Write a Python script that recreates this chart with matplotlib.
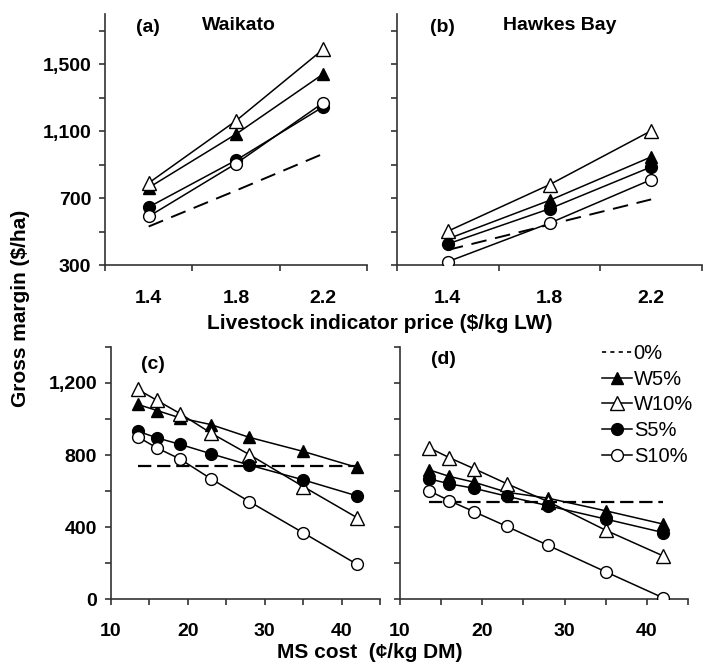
import matplotlib
matplotlib.use('Agg')
import matplotlib.pyplot as plt
from matplotlib.lines import Line2D
from matplotlib.ticker import FixedLocator, NullFormatter

plt.rcParams['font.family'] = ['Liberation Sans', 'DejaVu Sans']
plt.rcParams['font.weight'] = 'bold'

# ---- data: top panels, gross margin vs livestock indicator price
price_labels = ['1.4', '1.8', '2.2']
waikato = {
    '0%':   [530, 745, 965],
    'W5%':  [762, 1082, 1442],
    'W10%': [790, 1162, 1590],
    'S5%':  [646, 926, 1246],
    'S10%': [590, 906, 1270],
}
hawkes = {
    '0%':   [390, 541, 692],
    'W5%':  [456, 686, 946],
    'W10%': [502, 780, 1102],
    'S5%':  [426, 636, 886],
    'S10%': [320, 550, 810],
}

# ---- data: bottom panels, gross margin vs MS cost
ms_cost = [13.5, 16, 19, 23, 28, 35, 42]
waikato_ms = {
    '0%':   [737, 737, 737, 737, 737, 737, 737],
    'W5%':  [1081, 1047, 1006, 969, 898, 820, 731],
    'W10%': [1164, 1103, 1030, 922, 802, 625, 452],
    'S5%':  [932, 895, 859, 807, 744, 662, 573],
    'S10%': [900, 839, 777, 668, 541, 368, 193],
}
hawkes_ms = {
    '0%':   [537, 537, 537, 537, 537, 537, 537],
    'W5%':  [718, 681, 649, 593, 560, 490, 416],
    'W10%': [841, 785, 724, 640, 541, 382, 239],
    'S5%':  [668, 640, 615, 571, 518, 444, 369],
    'S10%': [602, 546, 485, 403, 298, 151, 6],
}

styles = {
    'W5%':  dict(marker='^', mfc='black', mec='black', ms=9),
    'W10%': dict(marker='^', mfc='white', mec='black', ms=10),
    'S5%':  dict(marker='o', mfc='black', mec='black', ms=8.5),
    'S10%': dict(marker='o', mfc='white', mec='black', ms=8.5),
}
order = ['0%', 'W5%', 'W10%', 'S5%', 'S10%']

W, H = 703, 664
fig = plt.figure(figsize=(W / 100, H / 100), dpi=100)

def box(l, r, t, b):
    # pixel box -> figure fraction
    return [l / W, 1 - b / H, (r - l) / W, (b - t) / H]

ax_a = fig.add_axes(box(105, 367, 14, 265))
ax_b = fig.add_axes(box(397, 702, 14, 265))
ax_c = fig.add_axes(box(111, 380, 347, 599))
ax_d = fig.add_axes(box(400, 688, 347, 599))

spine_col = '#333333'

def style_axes(ax, xpad):
    for s in ['top', 'right']:
        ax.spines[s].set_visible(False)
    for s in ['left', 'bottom']:
        ax.spines[s].set_color(spine_col)
        ax.spines[s].set_linewidth(1.2)
    ax.tick_params(which='both', direction='out', length=4, width=1.2,
                   color=spine_col, labelsize=14)
    ax.tick_params(axis='x', pad=xpad)
    ax.tick_params(axis='y', pad=6)

def draw(ax, x, data, dash, dlw):
    for k in order:
        if k == '0%':
            ax.plot(x, data[k], color='black', lw=dlw, ls=(0, dash), label=k, zorder=2)
        else:
            ax.plot(x, data[k], color='black', lw=1.1, label=k, zorder=3, **styles[k])

# top panels: categorical price axis
xpos = [0.5, 1.5, 2.5]
for ax, data in [(ax_a, waikato), (ax_b, hawkes)]:
    draw(ax, xpos, data, (8, 4.5), 1.4)
    ax.set_xlim(0, 3)
    ax.set_ylim(300, 1800)
    ax.xaxis.set_major_locator(FixedLocator([0, 1, 2, 3]))
    ax.xaxis.set_major_formatter(NullFormatter())
    ax.xaxis.set_minor_locator(FixedLocator(xpos))
    ax.set_xticklabels(price_labels, minor=True)
    ax.yaxis.set_major_locator(FixedLocator([300, 700, 1100, 1500]))
    ax.yaxis.set_minor_locator(FixedLocator([500, 900, 1300, 1700]))
    style_axes(ax, 16)
    ax.tick_params(axis='x', which='minor', length=0, pad=18)
ax_a.set_yticklabels(['300', '700', '1,100', '1,500'])
ax_b.set_yticklabels([])

# bottom panels: MS cost axis
for ax, data in [(ax_c, waikato_ms), (ax_d, hawkes_ms)]:
    draw(ax, ms_cost, data, (6, 2.6), 1.6)
    ax.set_xlim(10, 45)
    ax.set_ylim(0, 1400)
    ax.xaxis.set_major_locator(FixedLocator([10, 20, 30, 40]))
    ax.xaxis.set_minor_locator(FixedLocator([15, 25, 35, 45]))
    ax.yaxis.set_major_locator(FixedLocator([0, 400, 800, 1200]))
    ax.yaxis.set_minor_locator(FixedLocator([200, 600, 1000, 1400]))
    style_axes(ax, 13)
ax_c.set_yticklabels(['0', '400', '800', '1,200'])
ax_d.set_yticklabels([])

# panel titles
for txt, x, y in [('(a)', 148, 28), ('Waikato', 239, 26), ('(b)', 442, 28),
                  ('Hawkes Bay', 560, 26), ('(c)', 153, 365), ('(d)', 443, 360)]:
    fig.text(x / W, 1 - y / H, txt, ha='center', va='center', fontsize=14)

fig.text(380 / W, 1 - 323 / H, 'Livestock indicator price ($/kg LW)', ha='center', va='center', fontsize=15)
fig.text(370 / W, 1 - 652 / H, 'MS cost  (\u00a2/kg DM)', ha='center', va='center', fontsize=15)
fig.text(21 / W, 1 - 308 / H, 'Gross margin ($/ha)', ha='center', va='center', rotation=90, fontsize=15)

# legend in panel (d); proxy for the dashed entry so the plotted line keeps its style
handles, labels = ax_d.get_legend_handles_labels()
handles[0] = Line2D([], [], color='black', lw=1.2, ls=(0, (2.5, 2.5)))
leg = ax_d.legend(handles, labels, loc='upper right', bbox_to_anchor=(693 / W, 1 - 344 / H),
                  bbox_transform=fig.transFigure, frameon=False, handlelength=1.5,
                  handletextpad=0.1, labelspacing=0.33, borderpad=0, borderaxespad=0,
                  prop={'weight': 'normal', 'size': 14.5})

fig.savefig('out.png', dpi=100)
